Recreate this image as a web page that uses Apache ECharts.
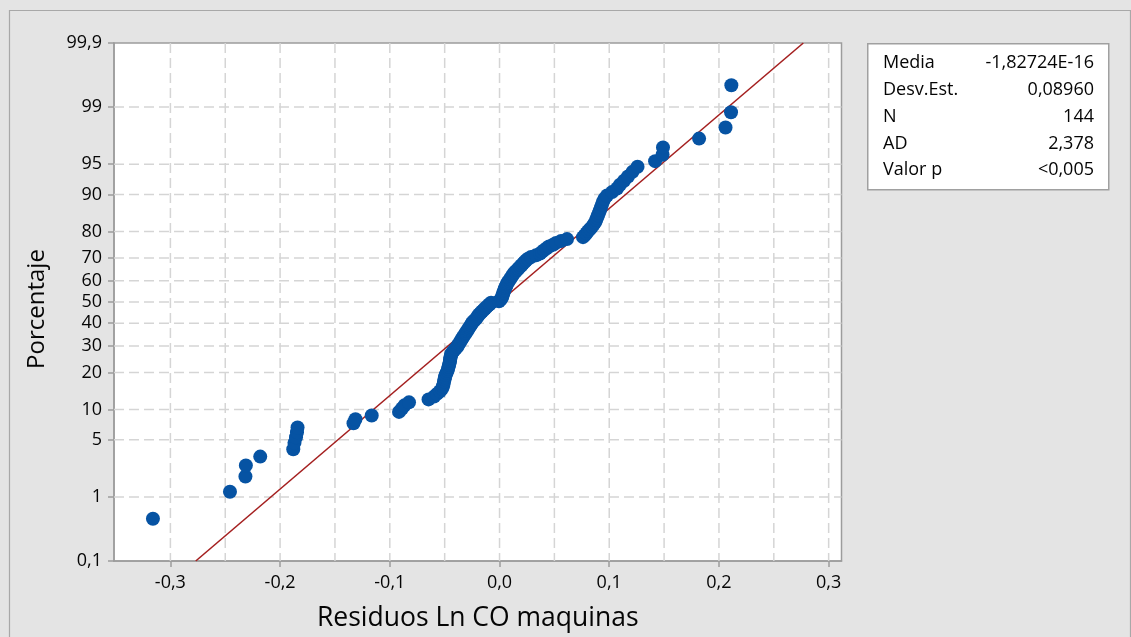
<!DOCTYPE html>
<html>
<head>
<meta charset="utf-8">
<script src="https://cdn.jsdelivr.net/npm/echarts@6/dist/echarts.min.js"></script>
<style>
  html, body { margin: 0; padding: 0; background: #e4e4e4; }
  #chart { width: 1131px; height: 637px; }
</style>
</head>
<body>
<div id="chart"></div>
<script>
// Sorted residuals (Ln CO maquinas), n = 144
const residuos = [
  -0.3159, -0.2457, -0.2316, -0.2312, -0.2181, -0.1880, -0.1869, -0.1855, -0.1846, -0.1841,
  -0.1331, -0.1313, -0.1165, -0.0916, -0.0889, -0.0866, -0.0825, -0.0647, -0.0597, -0.0570,
  -0.0543, -0.0524, -0.0515, -0.0510, -0.0506, -0.0501, -0.0497, -0.0492, -0.0483, -0.0474,
  -0.0469, -0.0465, -0.0460, -0.0456, -0.0451, -0.0450, -0.0447, -0.0442, -0.0441, -0.0428,
  -0.0415, -0.0401, -0.0387, -0.0378, -0.0369, -0.0360, -0.0351, -0.0342, -0.0333, -0.0324,
  -0.0314, -0.0305, -0.0296, -0.0287, -0.0278, -0.0269, -0.0260, -0.0251, -0.0242, -0.0228,
  -0.0214, -0.0205, -0.0196, -0.0187, -0.0173, -0.0160, -0.0146, -0.0132, -0.0119, -0.0105,
  -0.0091, -0.0077, -0.0005, 0.0009, 0.0018, 0.0023, 0.0027, 0.0032, 0.0036, 0.0041,
  0.0046, 0.0050, 0.0059, 0.0064, 0.0068, 0.0077, 0.0087, 0.0096, 0.0105, 0.0114,
  0.0123, 0.0132, 0.0146, 0.0160, 0.0173, 0.0187, 0.0201, 0.0214, 0.0228, 0.0242,
  0.0260, 0.0287, 0.0333, 0.0369, 0.0387, 0.0406, 0.0428, 0.0451, 0.0488, 0.0515,
  0.0561, 0.0615, 0.0761, 0.0779, 0.0793, 0.0807, 0.0825, 0.0843, 0.0857, 0.0871,
  0.0880, 0.0889, 0.0898, 0.0907, 0.0916, 0.0925, 0.0934, 0.0943, 0.0957, 0.0980,
  0.1026, 0.1071, 0.1098, 0.1135, 0.1171, 0.1212, 0.1258, 0.1418, 0.1486, 0.1490,
  0.1819, 0.2060, 0.2110, 0.2113
];

// Probability-scale ticks (percent) and their labels
const pctTicks = [0.1, 1, 5, 10, 20, 30, 40, 50, 60, 70, 80, 90, 95, 99, 99.9];
const pctLabels = ['0,1', '1', '5', '10', '20', '30', '40', '50', '60', '70', '80', '90', '95', '99', '99,9'];

// Residual axis ticks, labels and grid positions
const xTicks = [-0.3, -0.2, -0.1, 0, 0.1, 0.2, 0.3];
const xLabels = ['-0,3', '-0,2', '-0,1', '0,0', '0,1', '0,2', '0,3'];
const xGrid = [-0.3, -0.25, -0.2, -0.15, -0.1, -0.05, 0, 0.05, 0.1, 0.15, 0.2, 0.25, 0.3];

// Summary statistics box
const statNames = ['Media', 'Desv.Est.', 'N', 'AD', 'Valor p'];
const statValues = ['-1,82724E-16', '0,08960', '144', '2,378', '<0,005'];
const media = -1.82724e-16;
const desvEst = 0.08960;

// Inverse standard normal CDF (Acklam)
function normInv(p) {
  const a = [-3.969683028665376e+01, 2.209460984245205e+02, -2.759285104469687e+02, 1.383577518672690e+02, -3.066479806614716e+01, 2.506628277459239e+00];
  const b = [-5.447609879822406e+01, 1.615858368580409e+02, -1.556989798598866e+02, 6.680131188771972e+01, -1.328068155288572e+01];
  const c = [-7.784894002430293e-03, -3.223964580411365e-01, -2.400758277161838e+00, -2.549671010322563e+00, 4.374664141464968e+00, 2.938163982698783e+00];
  const d = [7.784695709041462e-03, 3.224671290700398e-01, 2.445134137142996e+00, 3.754408661907416e+00];
  const pl = 0.02425, ph = 1 - pl;
  let q, r;
  if (p < pl) {
    q = Math.sqrt(-2 * Math.log(p));
    return (((((c[0] * q + c[1]) * q + c[2]) * q + c[3]) * q + c[4]) * q + c[5]) / ((((d[0] * q + d[1]) * q + d[2]) * q + d[3]) * q + 1);
  }
  if (p <= ph) {
    q = p - 0.5; r = q * q;
    return (((((a[0] * r + a[1]) * r + a[2]) * r + a[3]) * r + a[4]) * r + a[5]) * q / (((((b[0] * r + b[1]) * r + b[2]) * r + b[3]) * r + b[4]) * r + 1);
  }
  q = Math.sqrt(-2 * Math.log(1 - p));
  return -(((((c[0] * q + c[1]) * q + c[2]) * q + c[3]) * q + c[4]) * q + c[5]) / ((((d[0] * q + d[1]) * q + d[2]) * q + d[3]) * q + 1);
}

const n = residuos.length;
// Median-rank plotting positions (i - 0.3) / (n + 0.4), on the normal score scale
const points = residuos.map((v, i) => [v, normInv((i + 1 - 0.3) / (n + 0.4))]);

const zTicks = pctTicks.map(p => normInv(p / 100));
const zLo = zTicks[0];
const zHi = zTicks[zTicks.length - 1];
const fitLine = [[media + desvEst * zLo, zLo], [media + desvEst * zHi, zHi]];

function nearestLabel(val, ticks, labels) {
  let best = 0;
  for (let i = 1; i < ticks.length; i++) {
    if (Math.abs(ticks[i] - val) < Math.abs(ticks[best] - val)) best = i;
  }
  return labels[best];
}

const FONT = '"Open Sans", "Noto Sans", sans-serif';
const AXIS_GRAY = '#9c9c9c';
const GRID_GRAY = '#d5d5d5';
const TEXT = '#050505';

// Grid lines: kind 0 = vertical at a residual value, kind 1 = horizontal at a normal score
const gridItems = [
  ...xGrid.map(v => [0, v]),
  ...zTicks.slice(1, -1).map(z => [1, z])
];

function renderGridLine(params, api) {
  const cs = params.coordSys;
  const kind = api.value(0);
  const val = api.value(1);
  let shape;
  if (kind === 0) {
    const px = api.coord([val, 0])[0];
    shape = { x1: px, y1: cs.y, x2: px, y2: cs.y + cs.height };
  } else {
    const py = api.coord([0, val])[1];
    shape = { x1: cs.x, y1: py, x2: cs.x + cs.width, y2: py };
  }
  return {
    type: 'line',
    shape: shape,
    style: { stroke: GRID_GRAY, lineWidth: 1.5, lineDash: [10, 5] },
    silent: true
  };
}

const statsLeft = 867, statsTop = 43, statsW = 241, statsH = 146;
const statRowY = [63, 90, 117, 144, 170];
const statsGraphics = [
  {
    type: 'rect', left: statsLeft, top: statsTop, z: 10,
    shape: { width: statsW, height: statsH },
    style: { fill: '#ffffff', stroke: '#a0a0a0', lineWidth: 1.5 }
  }
];
statNames.forEach((name, i) => {
  statsGraphics.push({
    type: 'text', x: 883, y: statRowY[i], z: 11,
    style: { text: name, font: '500 18px ' + FONT, fill: TEXT, textAlign: 'left', textVerticalAlign: 'middle' }
  });
  statsGraphics.push({
    type: 'text', x: 1094, y: statRowY[i], z: 11,
    style: { text: statValues[i], font: '500 18px ' + FONT, fill: TEXT, textAlign: 'right', textVerticalAlign: 'middle' }
  });
});

const chart = echarts.init(document.getElementById('chart'), null, { renderer: 'canvas' });
chart.setOption({
  animation: false,
  backgroundColor: '#e4e4e4',
  textStyle: { fontFamily: FONT },
  grid: {
    left: 114, top: 43, width: 727.5, height: 518,
    show: true, backgroundColor: '#ffffff', borderColor: AXIS_GRAY, borderWidth: 1.5
  },
  xAxis: {
    type: 'value',
    min: -0.3514, max: 0.3117,
    name: 'Residuos Ln CO maquinas',
    nameLocation: 'middle', nameGap: 44,
    nameTextStyle: { fontSize: 26.5, fontWeight: 500, color: TEXT, fontFamily: FONT },
    axisLine: { show: true, onZero: false, lineStyle: { color: AXIS_GRAY, width: 1.5 } },
    axisTick: { show: true, customValues: xTicks, length: 6, lineStyle: { color: AXIS_GRAY, width: 1.5 } },
    axisLabel: {
      customValues: xTicks, margin: 13, fontSize: 18, fontWeight: 500, color: TEXT, fontFamily: FONT,
      formatter: v => nearestLabel(v, xTicks, xLabels)
    },
    splitLine: { show: false }
  },
  yAxis: {
    type: 'value',
    min: zLo, max: zHi,
    axisLine: { show: true, onZero: false, lineStyle: { color: AXIS_GRAY, width: 1.5 } },
    axisTick: { show: true, customValues: zTicks, length: 6, lineStyle: { color: AXIS_GRAY, width: 1.5 } },
    axisLabel: {
      customValues: zTicks, margin: 12, fontSize: 18, fontWeight: 500, color: TEXT, fontFamily: FONT,
      formatter: v => nearestLabel(v, zTicks, pctLabels)
    },
    splitLine: { show: false }
  },
  series: [
    {
      type: 'custom', data: gridItems, z: 1, silent: true, clip: true,
      encode: { x: 1, y: 1 },
      renderItem: renderGridLine
    },
    {
      type: 'line', data: fitLine, z: 2, silent: true,
      showSymbol: false, symbol: 'none',
      lineStyle: { color: '#a41f1f', width: 1.6 }
    },
    {
      type: 'scatter', data: points, z: 3, silent: true,
      symbol: 'circle', symbolSize: 14,
      itemStyle: { color: '#0653a3', opacity: 1 }
    }
  ],
  graphic: [
    {
      type: 'rect', left: 7, top: 8, z: -1, silent: true,
      shape: { width: 1121, height: 660 },
      style: { fill: 'none', stroke: '#a8a8a8', lineWidth: 1.2 }
    },
    {
      type: 'text', x: 37, y: 309, rotation: Math.PI / 2, z: 5, silent: true,
      style: { text: 'Porcentaje', font: '500 24px ' + FONT, fill: TEXT, textAlign: 'center', textVerticalAlign: 'middle' }
    },
    ...statsGraphics
  ]
});
</script>
</body>
</html>
